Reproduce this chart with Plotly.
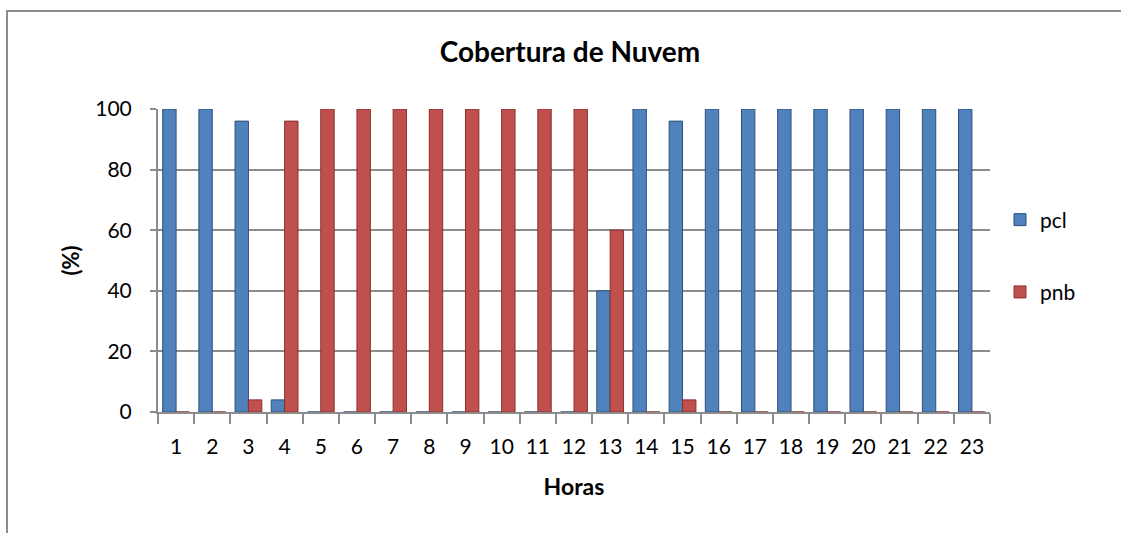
import plotly.graph_objects as go

# Hourly cloud-cover fractions (%)
horas = [str(h) for h in range(1, 24)]
pcl = [100, 100, 96, 4, 0, 0, 0, 0, 0, 0, 0, 0, 40, 100, 96, 100, 100, 100, 100, 100, 100, 100, 100]
pnb = [0, 0, 4, 96, 100, 100, 100, 100, 100, 100, 100, 100, 60, 0, 4, 0, 0, 0, 0, 0, 0, 0, 0]
y_ticks = [0, 20, 40, 60, 80, 100]

FONT = "Lato, 'Open Sans', sans-serif"
GRID = "#8c8c8c"

fig = go.Figure()
fig.add_trace(go.Bar(x=horas, y=pcl, name="pcl", legendgroup="a",
                     marker=dict(color="#4F81BD", line=dict(color="#2f5078", width=1))))
fig.add_trace(go.Bar(x=horas, y=pnb, name="pnb", legendgroup="b",
                     marker=dict(color="#C0504D", line=dict(color="#8a2f2c", width=1))))

# plot area in pixels: left 158, right 990, top 109, bottom 412
L, R, T, B = 158, 990, 109, 412
W, H = 1121, 533
pw, ph = R - L, B - T

fig.update_layout(
    width=W, height=H,
    margin=dict(l=L, r=W - R, t=T, b=H - B, autoexpand=False),
    paper_bgcolor="white", plot_bgcolor="white",
    barmode="group", bargap=0.26, bargroupgap=0.0,
    font=dict(family=FONT, size=21, color="black"),
    title=dict(text="<b>Cobertura de Nuvem</b>", x=(570 - L) / pw, xref="paper",
               xanchor="center", y=1 - 52 / H, yanchor="middle",
               font=dict(family=FONT, size=28, color="black")),
    xaxis=dict(type="category", tickson="boundaries", ticks="outside", ticklen=10,
               tickcolor=GRID, tickwidth=2, showline=True, linecolor=GRID, linewidth=2,
               showgrid=False, tickfont=dict(size=21), ticklabelstandoff=15,
               title=dict(text="<b>Horas</b>", font=dict(size=23), standoff=22)),
    yaxis=dict(range=[0, 100], tickvals=y_ticks, ticks="outside", ticklen=6,
               tickcolor=GRID, tickwidth=2, showline=True, linecolor=GRID, linewidth=2,
               showgrid=True, gridcolor=GRID, gridwidth=2, zeroline=False,
               tickfont=dict(size=21), ticklabelstandoff=14,
               title=dict(text="<b>(%)</b>", font=dict(size=22), standoff=10)),
    legend=dict(x=(1000 - L) / pw, y=(B - 256) / ph, xanchor="left", yanchor="middle",
                traceorder="grouped", tracegroupgap=42, font=dict(size=21),
                itemwidth=30, bgcolor="rgba(0,0,0,0)"),
    shapes=[dict(type="rect", xref="paper", yref="paper",
                 x0=(7 - L) / pw, x1=(W + 20 - L) / pw,
                 y0=(B - (H + 20)) / ph, y1=(B - 11) / ph,
                 line=dict(color="#8c8c8c", width=2), fillcolor="rgba(0,0,0,0)",
                 layer="below")],
)

fig.write_html("out.html")
